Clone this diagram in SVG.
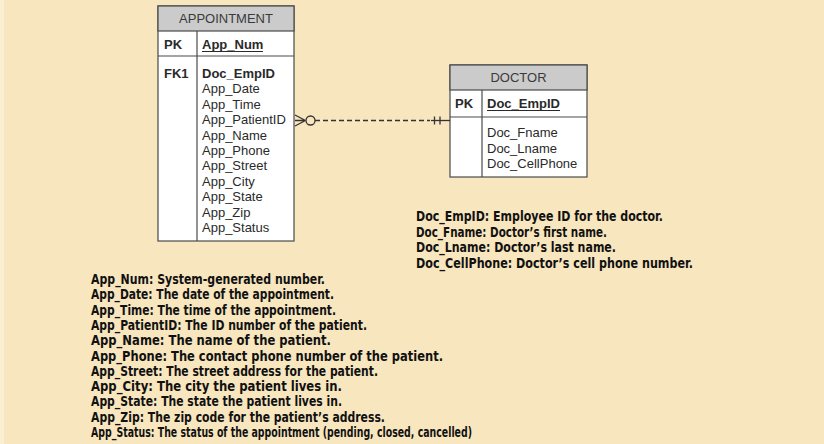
<svg xmlns="http://www.w3.org/2000/svg" width="824" height="444" viewBox="0 0 824 444">
<style>
.bg{fill:#F8E6BE}
.box{fill:#FFFFFF;stroke:#4A4A4A;stroke-width:1.2}
.hdr{fill:#CBCBCB;stroke:#4A4A4A;stroke-width:1.2}
.ln{stroke:#4A4A4A;stroke-width:1.2;fill:none}
.t{font-family:"Liberation Sans",Arial,sans-serif;font-size:13px;fill:#2A2A2A}
.title{font-family:"Liberation Sans",Arial,sans-serif;font-size:13px;fill:#3A3A3A;text-anchor:middle}
.b{font-weight:bold}
.d{font-family:"Liberation Sans Narrow","DejaVu Sans Condensed","Liberation Sans",Arial,sans-serif;font-size:13.5px;font-weight:bold;fill:#111}
.conn{stroke:#333;stroke-width:1.3;fill:none}
</style>
<rect class="bg" x="0" y="0" width="824" height="444"/>
<rect x="0" y="0" width="4" height="444" fill="#FBEFD2"/>

<g id="appointment">
<rect class="box" x="158" y="6" width="136" height="235"/>
<rect class="hdr" x="158" y="6" width="136" height="25"/>
<line class="ln" x1="158" y1="56" x2="294" y2="56"/>
<line class="ln" x1="197" y1="31" x2="197" y2="241"/>
<text class="title" x="226" y="23">APPOINTMENT</text>
<text class="t b" x="164" y="49">PK</text>
<text class="t b" x="202" y="49">App_Num</text>
<line x1="202" y1="51.5" x2="263" y2="51.5" stroke="#2A2A2A" stroke-width="1"/>
<text class="t b" x="164" y="78">FK1</text>
<text class="t b" x="202" y="78">Doc_EmpID</text>
<text class="t" x="202" y="93.4">App_Date</text>
<text class="t" x="202" y="108.8">App_Time</text>
<text class="t" x="202" y="124.2">App_PatientID</text>
<text class="t" x="202" y="139.6">App_Name</text>
<text class="t" x="202" y="155">App_Phone</text>
<text class="t" x="202" y="170.4">App_Street</text>
<text class="t" x="202" y="185.8">App_City</text>
<text class="t" x="202" y="201.2">App_State</text>
<text class="t" x="202" y="216.6">App_Zip</text>
<text class="t" x="202" y="232">App_Status</text>
</g>

<g id="doctor">
<rect class="box" x="450" y="65" width="137" height="112"/>
<rect class="hdr" x="450" y="65" width="137" height="25"/>
<line class="ln" x1="450" y1="117" x2="587" y2="117"/>
<line class="ln" x1="482" y1="90" x2="482" y2="177"/>
<text class="title" x="518.5" y="82">DOCTOR</text>
<text class="t b" x="455" y="108">PK</text>
<text class="t b" x="487" y="108">Doc_EmpID</text>
<line x1="487" y1="110.5" x2="560" y2="110.5" stroke="#2A2A2A" stroke-width="1"/>
<text class="t" x="487" y="137">Doc_Fname</text>
<text class="t" x="487" y="152.5">Doc_Lname</text>
<text class="t" x="487" y="168">Doc_CellPhone</text>
</g>

<g id="connectors">
<path class="conn" d="M295,115 L305.5,120.5 M295,126 L305.5,120.5 M295,120.5 L305.5,120.5"/>
<circle class="conn" cx="310.5" cy="120.5" r="4.5"/>
<line class="conn" x1="315" y1="120.5" x2="430" y2="120.5" stroke-dasharray="5,3"/>
<line class="conn" x1="431" y1="120.5" x2="450" y2="120.5"/>
<line class="conn" x1="434.5" y1="116.5" x2="434.5" y2="124.5"/>
<line class="conn" x1="440" y1="116.5" x2="440" y2="124.5"/>
</g>

<g id="doctor-notes">
<text class="d" x="416" y="221" textLength="247" lengthAdjust="spacingAndGlyphs">Doc_EmpID: Employee ID for the doctor.</text>
<text class="d" x="416" y="236.5" textLength="191" lengthAdjust="spacingAndGlyphs">Doc_Fname: Doctor’s first name.</text>
<text class="d" x="416" y="252" textLength="200" lengthAdjust="spacingAndGlyphs">Doc_Lname: Doctor’s last name.</text>
<text class="d" x="416" y="267.5" textLength="277" lengthAdjust="spacingAndGlyphs">Doc_CellPhone: Doctor’s cell phone number.</text>
</g>

<g id="appointment-notes">
<text class="d" x="91" y="284" textLength="234" lengthAdjust="spacingAndGlyphs">App_Num: System-generated number.</text>
<text class="d" x="91" y="299.3" textLength="243" lengthAdjust="spacingAndGlyphs">App_Date: The date of the appointment.</text>
<text class="d" x="91" y="314.6" textLength="245" lengthAdjust="spacingAndGlyphs">App_Time: The time of the appointment.</text>
<text class="d" x="91" y="329.9" textLength="276" lengthAdjust="spacingAndGlyphs">App_PatientID: The ID number of the patient.</text>
<text class="d" x="91" y="345.2" textLength="240" lengthAdjust="spacingAndGlyphs">App_Name:  The name of the patient.</text>
<text class="d" x="91" y="360.5" textLength="352" lengthAdjust="spacingAndGlyphs">App_Phone: The contact phone number of the patient.</text>
<text class="d" x="91" y="375.8" textLength="287" lengthAdjust="spacingAndGlyphs">App_Street:  The street address for the patient.</text>
<text class="d" x="91" y="391.1" textLength="251" lengthAdjust="spacingAndGlyphs">App_City:  The city the patient lives in.</text>
<text class="d" x="91" y="406.4" textLength="251" lengthAdjust="spacingAndGlyphs">App_State:  The state the patient lives in.</text>
<text class="d" x="91" y="421.7" textLength="294" lengthAdjust="spacingAndGlyphs">App_Zip:  The zip code for the patient’s address.</text>
<text class="d" x="91" y="437" textLength="381" lengthAdjust="spacingAndGlyphs">App_Status: The status of the appointment (pending, closed, cancelled)</text>
</g>
</svg>
